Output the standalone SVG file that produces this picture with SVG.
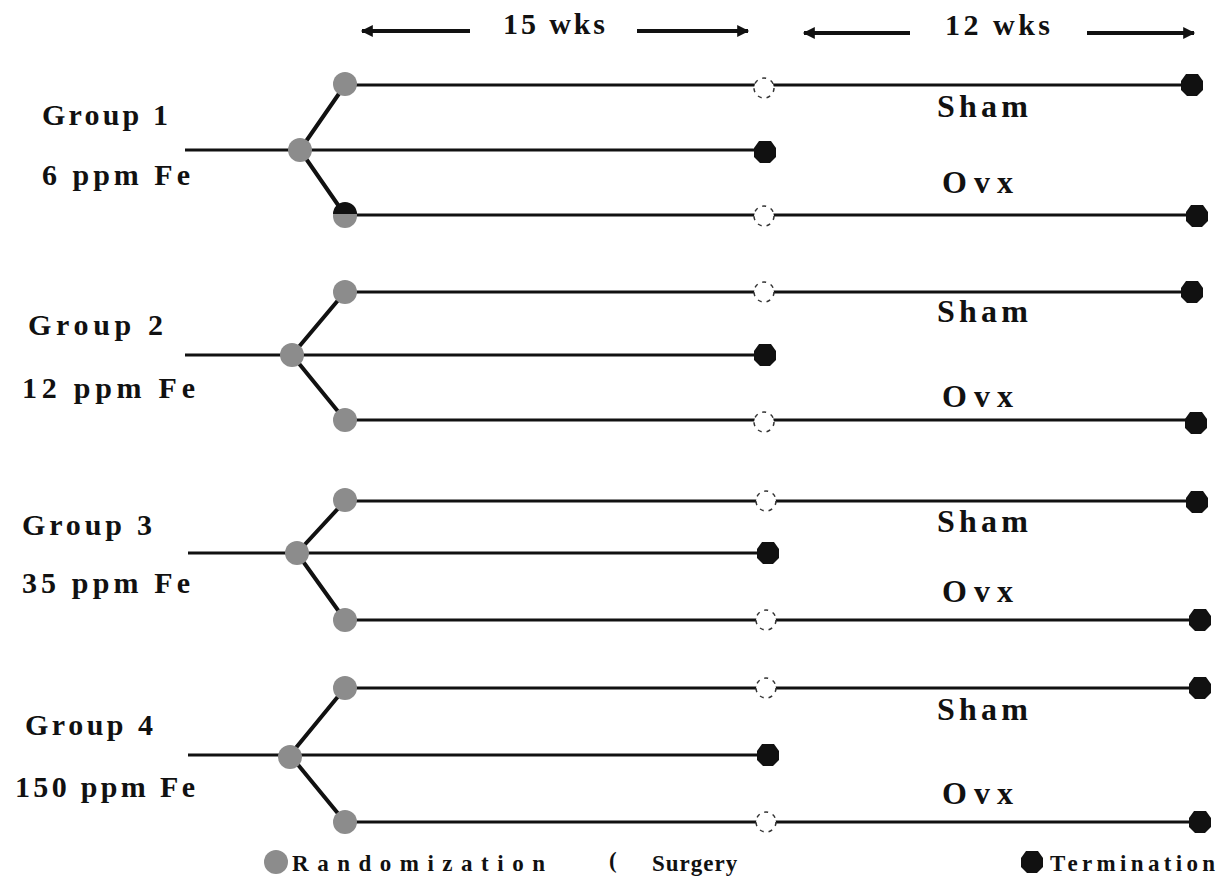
<svg xmlns="http://www.w3.org/2000/svg" width="1223" height="882" viewBox="0 0 1223 882">
<style>
.t{font-family:"Liberation Serif","Times New Roman",serif;font-weight:bold;font-size:30px;fill:#111}
.b{font-family:"Liberation Serif","Times New Roman",serif;font-weight:bold;font-size:32px;fill:#111}
.s{font-family:"Liberation Serif","Times New Roman",serif;font-weight:bold;font-size:23px;fill:#111}
.ln{stroke:#111;stroke-width:3;fill:none}
.br{stroke:#111;stroke-width:4;fill:none}
.rnd{fill:#8c8c8c}
.surg{fill:#fff;stroke:#333;stroke-width:1.5;stroke-dasharray:4 5}
.ar{stroke:#111;stroke-width:4}
</style>
<defs>
<marker id="ah" viewBox="0 0 10 10" refX="9" refY="5" markerWidth="3.5" markerHeight="3" orient="auto"><path d="M0,0 L10,5 L0,10 z" fill="#111"/></marker>
<symbol id="hex" viewBox="-12 -12 24 24" overflow="visible"><polygon points="-6,-11 6,-11 11,-4 11,5 5,11 -5,11 -11,5 -11,-4" fill="#111"/></symbol>
</defs>

<g id="timeline-header">
<line class="ar" x1="470" y1="31" x2="362" y2="31" marker-end="url(#ah)"/>
<text class="t" x="503" y="34" textLength="102" lengthAdjust="spacing">15 wks</text>
<line class="ar" x1="637" y1="31" x2="748" y2="31" marker-end="url(#ah)"/>
<line class="ar" x1="910" y1="33" x2="804" y2="33" marker-end="url(#ah)" stroke-width="3"/>
<text class="t" x="945" y="35" textLength="105" lengthAdjust="spacing">12 wks</text>
<line class="ar" x1="1087" y1="33" x2="1194" y2="33" marker-end="url(#ah)" stroke-width="3"/>
</g>

<g id="connectors">
<path class="ln" d="M185,150 H300 M300,150 H765 M345,85 H1192 M345,215 H1197"/>
<path class="br" d="M300,150 L345,85 M300,150 L345,215"/>
<path class="ln" d="M185,355 H292 M292,355 H765 M345,292 H1192 M345,420 H1196"/>
<path class="br" d="M292,355 L345,292 M292,355 L345,420"/>
<path class="ln" d="M188,553 H297 M297,553 H768 M345,501 H1197 M345,620 H1200"/>
<path class="br" d="M297,553 L345,501 M297,553 L345,620"/>
<path class="ln" d="M188,755 H290 M290,755 H768 M345,688 H1200 M345,822 H1200"/>
<path class="br" d="M290,755 L345,688 M290,755 L345,822"/>
</g>

<g id="group1">
<text class="t" x="42" y="125" textLength="126" lengthAdjust="spacing">Group 1</text>
<text class="t" x="42" y="185" textLength="148" lengthAdjust="spacing">6 ppm Fe</text>
<text class="b" x="937" y="117" textLength="91" lengthAdjust="spacing">Sham</text>
<text class="b" x="942" y="193" textLength="71" lengthAdjust="spacing">Ovx</text>
<circle class="rnd" cx="300" cy="150" r="12"/>
<circle class="rnd" cx="345" cy="84" r="12"/>
<circle class="rnd" cx="345" cy="216" r="12"/>
<path d="M333,214 A12,12 0 0 1 357,214 Z" fill="#111"/>
<circle class="surg" cx="764" cy="88" r="10"/>
<circle class="surg" cx="764" cy="216" r="10"/>
<use href="#hex" x="753" y="140" width="24" height="24"/>
<use href="#hex" x="1180" y="73" width="24" height="24"/>
<use href="#hex" x="1185" y="204" width="24" height="24"/>
</g>

<g id="group2">
<text class="t" x="28" y="335" textLength="135" lengthAdjust="spacing">Group 2</text>
<text class="t" x="22" y="398" textLength="173" lengthAdjust="spacing">12 ppm Fe</text>
<text class="b" x="937" y="322" textLength="91" lengthAdjust="spacing">Sham</text>
<text class="b" x="942" y="407" textLength="71" lengthAdjust="spacing">Ovx</text>
<circle class="rnd" cx="292" cy="355" r="12"/>
<circle class="rnd" cx="345" cy="292" r="12"/>
<circle class="rnd" cx="345" cy="420" r="12"/>
<circle class="surg" cx="764" cy="292" r="10"/>
<circle class="surg" cx="764" cy="422" r="10"/>
<use href="#hex" x="753" y="343" width="24" height="24"/>
<use href="#hex" x="1180" y="280" width="24" height="24"/>
<use href="#hex" x="1184" y="411" width="24" height="24"/>
</g>

<g id="group3">
<text class="t" x="22" y="535" textLength="130" lengthAdjust="spacing">Group 3</text>
<text class="t" x="22" y="593" textLength="168" lengthAdjust="spacing">35 ppm Fe</text>
<text class="b" x="937" y="532" textLength="91" lengthAdjust="spacing">Sham</text>
<text class="b" x="942" y="602" textLength="71" lengthAdjust="spacing">Ovx</text>
<circle class="rnd" cx="297" cy="553" r="12"/>
<circle class="rnd" cx="345" cy="500" r="12"/>
<circle class="rnd" cx="345" cy="620" r="12"/>
<circle class="surg" cx="766" cy="501" r="10"/>
<circle class="surg" cx="766" cy="620" r="10"/>
<use href="#hex" x="756" y="541" width="24" height="24"/>
<use href="#hex" x="1185" y="490" width="24" height="24"/>
<use href="#hex" x="1188" y="608" width="24" height="24"/>
</g>

<g id="group4">
<text class="t" x="25" y="735" textLength="128" lengthAdjust="spacing">Group 4</text>
<text class="t" x="15" y="797" textLength="180" lengthAdjust="spacing">150 ppm Fe</text>
<text class="b" x="937" y="720" textLength="91" lengthAdjust="spacing">Sham</text>
<text class="b" x="942" y="804" textLength="71" lengthAdjust="spacing">Ovx</text>
<circle class="rnd" cx="290" cy="757" r="12"/>
<circle class="rnd" cx="345" cy="688" r="12"/>
<circle class="rnd" cx="345" cy="822" r="12"/>
<circle class="surg" cx="766" cy="688" r="10"/>
<circle class="surg" cx="766" cy="822" r="10"/>
<use href="#hex" x="756" y="743" width="24" height="24"/>
<use href="#hex" x="1188" y="676" width="24" height="24"/>
<use href="#hex" x="1188" y="810" width="24" height="24"/>
</g>

<g id="legend">
<circle class="rnd" cx="276" cy="862" r="12"/>
<text class="s" x="292" y="871" textLength="253" lengthAdjust="spacing">Randomization</text>
<text class="s" x="609" y="868" font-size="18">(</text>
<text class="s" x="652" y="871" font-size="19" letter-spacing="1">Surgery</text>
<use href="#hex" x="1020" y="850" width="24" height="24"/>
<text class="s" x="1050" y="871" textLength="165" lengthAdjust="spacing">Termination</text>
</g>
</svg>
